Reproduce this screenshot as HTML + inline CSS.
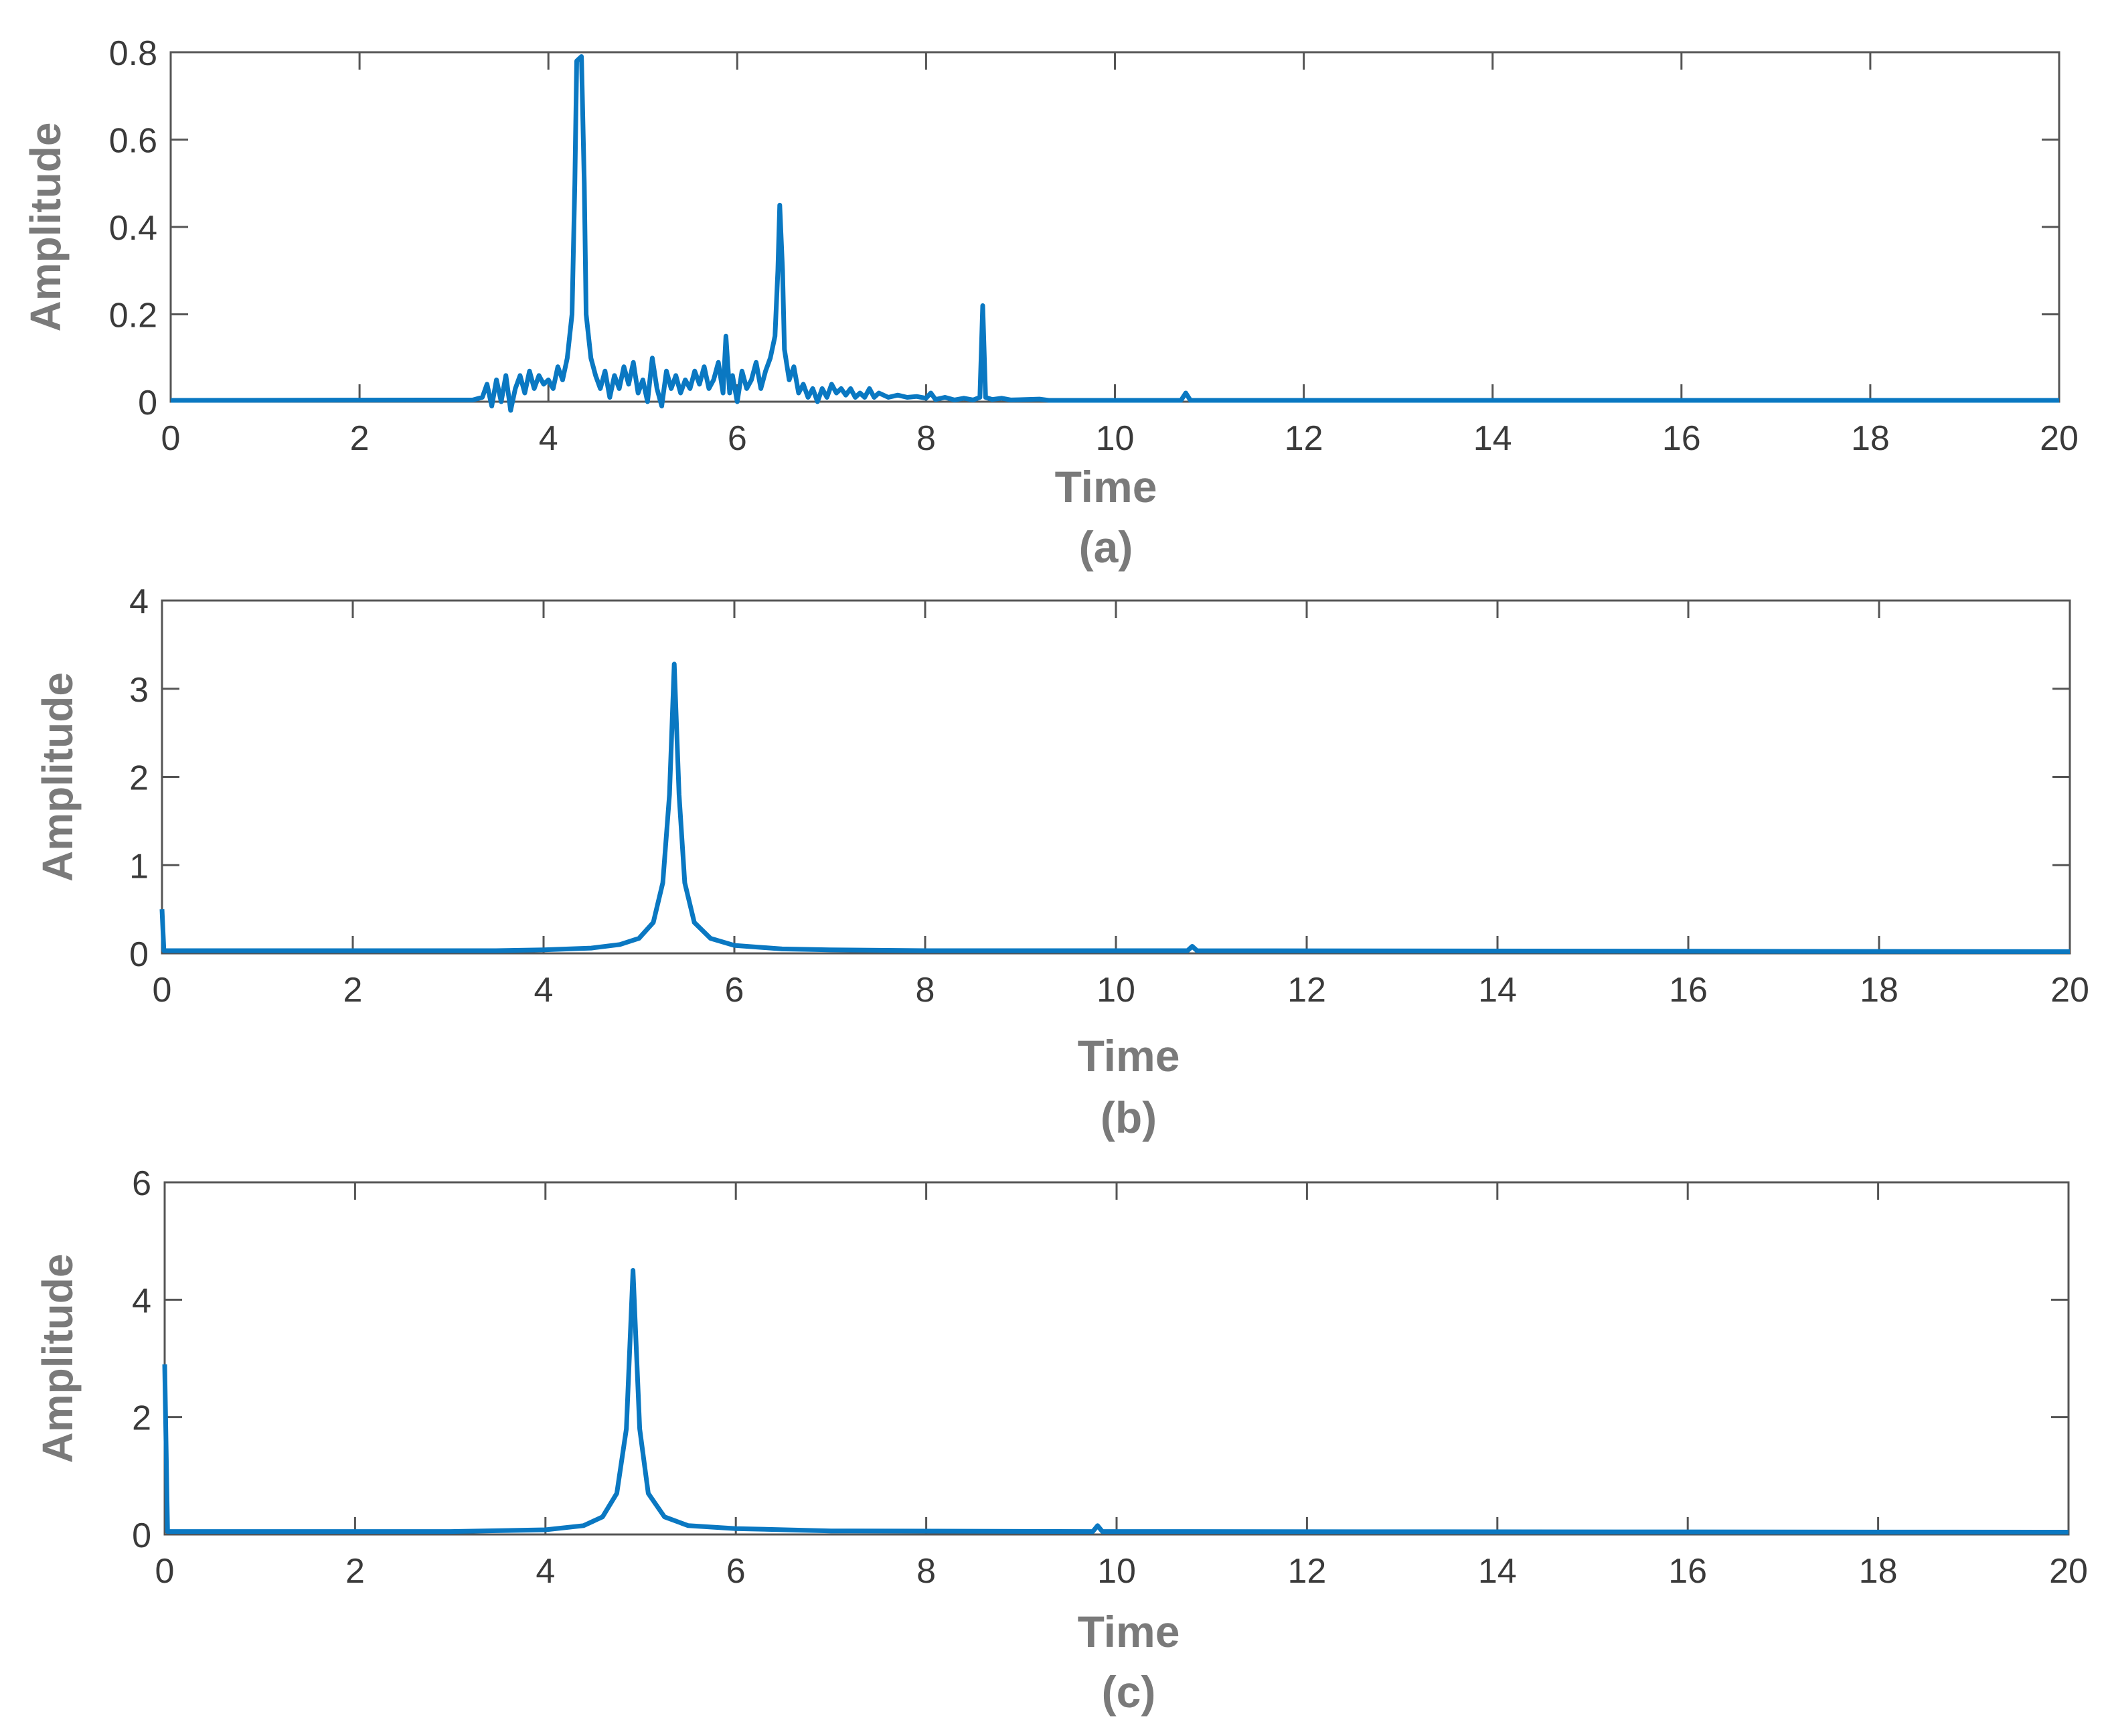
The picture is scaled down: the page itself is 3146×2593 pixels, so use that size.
<!DOCTYPE html>
<html><head><meta charset="utf-8"><style>
html,body{margin:0;padding:0;background:#fff;}
svg{display:block;}
</style></head><body>
<svg id="fig" width="3146" height="2593" viewBox="0 0 3146 2593" xmlns="http://www.w3.org/2000/svg" font-family="'Liberation Sans', sans-serif"></svg>
<script>
// Panel (a) data
const tA = [0,3.2,3.3,3.35,3.4,3.45,3.5,3.55,3.6,3.65,3.7,3.75,3.8,3.85,3.9,3.95,4.0,4.05,4.1,4.15,4.2,4.25,4.28,4.3,4.35,4.38,4.4,4.45,4.5,4.55,4.6,4.65,4.7,4.75,4.8,4.85,4.9,4.95,5.0,5.05,5.1,5.15,5.2,5.25,5.3,5.35,5.4,5.45,5.5,5.55,5.6,5.65,5.7,5.75,5.8,5.85,5.88,5.92,5.95,6.0,6.05,6.1,6.15,6.2,6.25,6.3,6.35,6.4,6.43,6.45,6.48,6.5,6.55,6.6,6.65,6.7,6.75,6.8,6.85,6.9,6.95,7.0,7.05,7.1,7.15,7.2,7.25,7.3,7.35,7.4,7.45,7.5,7.6,7.7,7.8,7.9,8.0,8.05,8.1,8.2,8.3,8.4,8.5,8.57,8.6,8.63,8.7,8.8,8.9,9.2,9.3,10.7,10.75,10.8,20];
const yA = [0.003,0.004,0.01,0.04,-0.01,0.05,0.0,0.06,-0.02,0.03,0.06,0.02,0.07,0.03,0.06,0.04,0.05,0.03,0.08,0.05,0.1,0.2,0.5,0.78,0.79,0.5,0.2,0.1,0.06,0.03,0.07,0.01,0.06,0.03,0.08,0.04,0.09,0.02,0.05,0.0,0.1,0.03,-0.01,0.07,0.03,0.06,0.02,0.05,0.03,0.07,0.04,0.08,0.03,0.05,0.09,0.02,0.15,0.02,0.06,0.0,0.07,0.03,0.05,0.09,0.03,0.07,0.1,0.15,0.3,0.45,0.3,0.12,0.05,0.08,0.02,0.04,0.01,0.03,0.0,0.03,0.01,0.04,0.02,0.03,0.015,0.03,0.01,0.02,0.01,0.03,0.01,0.02,0.01,0.015,0.01,0.012,0.008,0.02,0.005,0.01,0.004,0.008,0.004,0.01,0.22,0.01,0.005,0.008,0.004,0.006,0.003,0.003,0.02,0.003,0.003];
const yTicksA = [0,0.2,0.4,0.6,0.8];
const yLabelsA = ["0","0.2","0.4","0.6","0.8"];
// Panel (b) data
const tB = [0,0.02,3.5,4.0,4.5,4.8,5.0,5.15,5.25,5.32,5.37,5.42,5.48,5.58,5.75,6.0,6.5,7,8,10.75,10.8,10.85,20];
const yB = [0.5,0.03,0.03,0.04,0.06,0.1,0.17,0.35,0.8,1.8,3.28,1.8,0.8,0.35,0.17,0.09,0.05,0.04,0.03,0.03,0.08,0.03,0.02];
const yTicksB = [0,1,2,3,4];
const yLabelsB = ["0","1","2","3","4"];
// Panel (c) data
const tC = [0,0.03,3,4,4.4,4.6,4.75,4.85,4.92,4.99,5.08,5.25,5.5,6,7,9.75,9.8,9.85,20];
const yC = [2.9,0.05,0.05,0.08,0.15,0.3,0.7,1.8,4.5,1.8,0.7,0.3,0.15,0.1,0.06,0.05,0.15,0.05,0.04];
const yTicksC = [0,2,4,6];
const yLabelsC = ["0","2","4","6"];
const xTicks = [0,2,4,6,8,10,12,14,16,18,20];
const xLabels = ["0","2","4","6","8","10","12","14","16","18","20"];

const NS = "http://www.w3.org/2000/svg";
const svg = document.getElementById('fig');
function mk(tag, attrs, parent){
  const e = document.createElementNS(NS, tag);
  for (const k in attrs) e.setAttribute(k, attrs[k]);
  (parent||svg).appendChild(e);
  return e;
}
function panel(id, box, ymax, yTicks, yLabels, ts, ys, letter, timeX, timeY, capY, ylabX){
  const g = mk('g', {});
  
  
  const xs = v => box.l + (v/20)*(box.r-box.l);
  const yv = v => box.b - (v/ymax)*(box.b-box.t);
  let d = '';
  for (let i=0;i<ts.length;i++){ d += (i?'L':'M') + xs(ts[i]).toFixed(1) + ' ' + yv(ys[i]).toFixed(1); }
  const frame = mk('rect', {x:box.l, y:box.t, width:box.r-box.l, height:box.b-box.t, fill:'none', stroke:'#555', 'stroke-width':3}, g);
  
  
  const tl = 26;
  xTicks.forEach((v,i)=>{
    const x = xs(v);
    mk('line', {x1:x, y1:box.b, x2:x, y2:box.b-tl, stroke:'#555','stroke-width':3}, g);
    mk('line', {x1:x, y1:box.t, x2:x, y2:box.t+tl, stroke:'#555','stroke-width':3}, g);
    const t = mk('text', {x:x, y:box.b+72, 'font-size':52, fill:'#3a3a3a', 'text-anchor':'middle'}, g);
    t.textContent = xLabels[i];
    
    
  });
  yTicks.forEach((v,i)=>{
    const y = yv(v);
    mk('line', {x1:box.l, y1:y, x2:box.l+tl, y2:y, stroke:'#555','stroke-width':3}, g);
    mk('line', {x1:box.r, y1:y, x2:box.r-tl, y2:y, stroke:'#555','stroke-width':3}, g);
    const t = mk('text', {x:box.l-20, y:y+19, 'font-size':52, fill:'#3a3a3a', 'text-anchor':'end'}, g);
    t.textContent = yLabels[i];
    
    
  });
  const line = mk('path', {d:d, fill:'none', stroke:'#0a78c2', 'stroke-width':7, 'stroke-linejoin':'round'}, g);
  
  
  const cy = (box.t+box.b)/2;
  const yt = mk('text', {x:0, y:0, 'font-size':64, 'font-weight':'bold', fill:'#7a7a7a', 'text-anchor':'middle', transform:'translate('+ylabX+','+cy+') rotate(-90)'}, g);
  yt.textContent = 'Amplitude';
  
  
  const xt = mk('text', {x:timeX, y:timeY, 'font-size':66, 'font-weight':'bold', fill:'#7a7a7a', 'text-anchor':'middle'}, g);
  xt.textContent = 'Time';
  
  
  const cp = mk('text', {x:timeX, y:capY, 'font-size':66, 'font-weight':'bold', fill:'#7a7a7a', 'text-anchor':'middle'}, g);
  cp.textContent = '(' + letter + ')';
  
  
}
panel('a', {l:255,r:3076,t:78,b:600}, 0.8, yTicksA, yLabelsA, tA, yA, 'a', 1652, 750, 840, 90);
panel('b', {l:242,r:3092,t:897,b:1424}, 4, yTicksB, yLabelsB, tB, yB, 'b', 1686, 1600, 1692, 108);
panel('c', {l:246,r:3090,t:1766,b:2292}, 6, yTicksC, yLabelsC, tC, yC, 'c', 1686, 2460, 2550, 108);
</script>
</body></html>
